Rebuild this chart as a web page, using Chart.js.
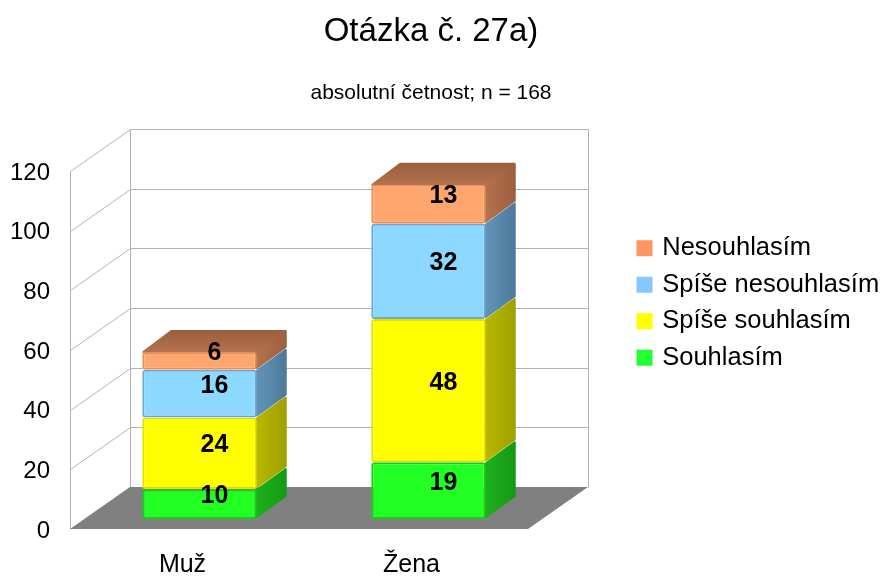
<!DOCTYPE html>
<html><head><meta charset="utf-8">
<style>html,body{margin:0;padding:0;background:#fff}#w{width:885px;height:578px}</style>
<script src="https://cdn.jsdelivr.net/npm/chart.js@4"></script>
</head><body><div id="w"><canvas id="c" width="885" height="578"></canvas></div>
<script>
const categories = ['Muž', 'Žena'];
const souhlasim = [10, 19];
const spiseSouhlasim = [24, 48];
const spiseNesouhlasim = [16, 32];
const nesouhlasim = [6, 13];
const yTicks = [0, 20, 40, 60, 80, 100, 120];
const FONT = '"Liberation Sans", Arial, sans-serif';
const WALL = {dx: 60, dy: -42}, BAR = {dx: 29, dy: -21}, SHIFT = {dx: 15, dy: -10};
const styles = [
  {label:'Souhlasím', face:'#22ff22', edge:'#20c820', side:['#1cb01c','#169a16'], legend:'#22ff33'},
  {label:'Spíše souhlasím', face:'#ffff00', edge:'#e2e200', side:['#b8b800','#a0a000'], legend:'#ffff00'},
  {label:'Spíše nesouhlasím', face:'#8cd8ff', edge:'#6fa8d4', side:['#6294b8','#4d7a9a'], legend:'#85c8ff'},
  {label:'Nesouhlasím', face:'#ffa56e', edge:'#e8905c', side:['#b4724e','#9c6040'], top:['#9c5f3e','#b4724e'], legend:'#ff9660'}
];
const values = [souhlasim, spiseSouhlasim, spiseNesouhlasim, nesouhlasim];
const corners = {topLeft:3, topRight:3, bottomLeft:3, bottomRight:3};

function poly(ctx, pts, fill) {
  ctx.beginPath();
  pts.forEach((p, i) => i ? ctx.lineTo(p[0], p[1]) : ctx.moveTo(p[0], p[1]));
  ctx.closePath();
  ctx.fillStyle = fill; ctx.strokeStyle = fill; ctx.lineWidth = 2; ctx.lineJoin = 'round';
  ctx.fill(); ctx.stroke();
}
function line(ctx, a, b, c, d) { ctx.beginPath(); ctx.moveTo(a, b); ctx.lineTo(c, d); ctx.stroke(); }

const scene = {
  id: 'scene',
  afterLayout(chart) {
    chart.boxes.forEach(b => {
      if (b.options && (b.options.text === 'Otázka č. 27a)' || String(b.options.text || '').startsWith('absolutní'))) {
        b.left = 0; b.right = 862;
      }
    });
    const l = chart.legend, pad = l.options.labels.padding;
    const nl = 639.5 - pad, nt = 303 - l.height / 2;
    l.left = nl; l.width = 885 - nl; l.right = 885; l.top = nt; l.bottom = nt + l.height;
  },
  beforeDatasetsDraw(chart) {
    const {ctx, chartArea: a, scales: {y}} = chart;
    const zero = y.getPixelForValue(0);
    ctx.save();
    ctx.strokeStyle = '#b3b3b3'; ctx.lineWidth = 1;
    const L = Math.round(a.left) + .5, R = Math.round(a.right) + WALL.dx + .5;
    yTicks.forEach(t => {
      const p = Math.round(y.getPixelForValue(t)) + .5;
      if (t > 0) {
        line(ctx, L, p, L + WALL.dx, p + WALL.dy);
        line(ctx, L + WALL.dx, p + WALL.dy, R, p + WALL.dy);
      }
    });
    const tp = Math.round(y.getPixelForValue(120)) + .5, bt = Math.round(zero) + .5;
    line(ctx, L, tp, L, bt);
    line(ctx, L + WALL.dx, tp + WALL.dy, L + WALL.dx, bt + WALL.dy);
    line(ctx, R, tp + WALL.dy, R, bt + WALL.dy);
    ctx.beginPath();
    ctx.moveTo(a.left, zero); ctx.lineTo(a.left + WALL.dx, zero + WALL.dy);
    ctx.lineTo(a.right + WALL.dx, zero + WALL.dy); ctx.lineTo(a.right, zero); ctx.closePath();
    ctx.fillStyle = '#808080'; ctx.fill();
    ctx.restore();
  },
  beforeDatasetDraw(chart, args) {
    const ctx = chart.ctx, s = styles[args.index];
    ctx.save();
    ctx.translate(SHIFT.dx, SHIFT.dy);
    args.meta.data.forEach(el => {
      const xl = el.x - el.width / 2, xr = el.x + el.width / 2;
      if (args.index === styles.length - 1) {
        const gt = ctx.createLinearGradient(0, el.y + BAR.dy, 0, el.y);
        gt.addColorStop(0, s.top[0]); gt.addColorStop(1, s.top[1]);
        poly(ctx, [[xl + 1, el.y], [xr, el.y], [xr + BAR.dx, el.y + BAR.dy], [xl + BAR.dx, el.y + BAR.dy]], gt);
      }
      const g = ctx.createLinearGradient(xr, 0, xr + BAR.dx, 0);
      g.addColorStop(0, s.side[0]); g.addColorStop(1, s.side[1]);
      poly(ctx, [[xr, el.y + 1], [xr + BAR.dx, el.y + BAR.dy + 1], [xr + BAR.dx, el.base + BAR.dy - 2], [xr, el.base - 2]], g);
    });
  },
  afterDatasetDraw(chart) { chart.ctx.restore(); },
  afterDatasetsDraw(chart) {
    const ctx = chart.ctx;
    ctx.save();
    ctx.font = 'bold 25px ' + FONT; ctx.fillStyle = '#000';
    ctx.textAlign = 'center'; ctx.textBaseline = 'middle';
    chart.data.datasets.forEach((ds, i) => {
      chart.getDatasetMeta(i).data.forEach((el, j) => {
        ctx.fillText(String(ds.data[j]), el.x + 30, (el.y + el.base) / 2 - 18);
      });
    });
    ctx.restore();
  }
};

new Chart(document.getElementById('c'), {
  type: 'bar',
  data: {
    labels: categories,
    datasets: styles.map((s, i) => ({
      label: s.label, data: values[i], backgroundColor: s.face, borderColor: s.edge,
      borderWidth: 2, borderSkipped: false, borderRadius: corners, clip: false,
      categoryPercentage: 0.5, barPercentage: 1
    }))
  },
  plugins: [scene],
  options: {
    responsive: false, animation: false, events: [],
    layout: {padding: {left: 0, top: 0, right: 157, bottom: 0}},
    scales: {
      x: {
        stacked: true, grid: {display: false}, border: {display: false},
        ticks: {color: '#000', font: {family: FONT, size: 25}, padding: 13, labelOffset: -2, maxRotation: 0},
        afterFit(s) { s.height = 49; }
      },
      y: {
        stacked: true, min: 0, max: 120, grid: {display: false}, border: {display: false},
        ticks: {color: '#000', font: {family: FONT, size: 24}, padding: 12, labelOffset: 2, stepSize: 20,
                callback: v => yTicks.includes(v) ? String(v) : ''},
        afterFit(s) { s.width = 70; }
      }
    },
    plugins: {
      tooltip: {enabled: false},
      title: {display: true, text: 'Otázka č. 27a)', color: '#000',
              font: {family: FONT, size: 33, weight: 'normal'}, padding: {top: 12.5, bottom: 7.5}},
      subtitle: {display: true, text: 'absolutní četnost; n = 168', color: '#000',
                 font: {family: FONT, size: 21, weight: 'normal'}, padding: {top: 21.3, bottom: 64.9}},
      legend: {
        position: 'right', reverse: true, maxWidth: 200,
        labels: {
          color: '#000', font: {family: FONT, size: 25.5}, boxWidth: 10, boxHeight: 10, padding: 11,
          generateLabels(chart) {
            return Chart.defaults.plugins.legend.labels.generateLabels(chart).map((it, i) => ({
              ...it, fillStyle: styles[i].legend, strokeStyle: styles[i].legend, lineWidth: 6
            }));
          }
        }
      }
    }
  }
});
</script></body></html>
